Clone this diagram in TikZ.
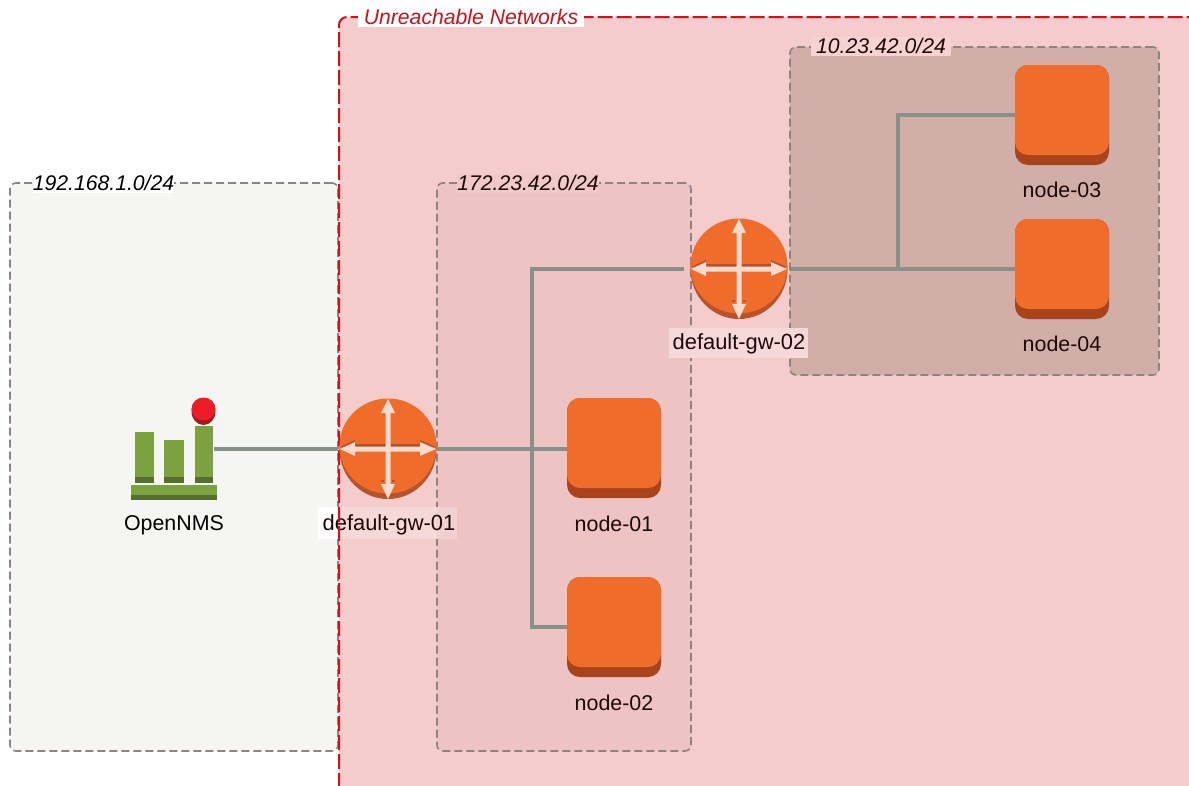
\documentclass[tikz,border=0pt]{standalone}
\usepackage{fontspec}
\setmainfont{Liberation Sans}
\definecolor{conn}{HTML}{87918A}
\definecolor{orng}{HTML}{F06C2B}
\definecolor{orngd}{HTML}{A8431C}
\definecolor{rdark}{HTML}{B8522A}
\definecolor{harrow}{HTML}{F9DAD0}
\definecolor{grn}{HTML}{7BA23F}
\definecolor{grnd}{HTML}{55702E}
\definecolor{dashg}{HTML}{8F8282}
\definecolor{redline}{HTML}{D0101A}
\definecolor{leftfill}{HTML}{F5F5F3}
\definecolor{bigfillc}{HTML}{F4CCCC}
\definecolor{midfill}{HTML}{EEC3C3}
\definecolor{rightfill}{HTML}{D2AEA8}
\definecolor{midlabc}{HTML}{F0C9C9}
\definecolor{rightlabc}{HTML}{F6D2D2}
\definecolor{gwlabc}{HTML}{F6D8D8}
\definecolor{gwlabd}{HTML}{F0D0D0}
\definecolor{balld}{HTML}{A51A1F}
\definecolor{ballc}{HTML}{EE1C25}
\definecolor{darktext}{HTML}{1E0808}
\tikzset{
  x=1pt,y=-1pt,
  region/.style={rectangle,rounded corners=6pt,dash pattern=on 8pt off 4pt,line width=1.6pt,draw=dashg,anchor=north west,inner sep=0pt,outer sep=0pt},
  regionlabel/.style={font=\fontsize{21.2}{24}\selectfont\itshape,text=black,inner sep=0pt,minimum height=19pt},
  itemlabel/.style={font=\fontsize{21.4}{24}\selectfont,text=darktext,inner sep=0pt},
  gwlabel/.style={font=\fontsize{21.9}{24}\selectfont,text=darktext,inner sep=0pt},
  link/.style={draw=conn,line width=3.4pt},
  nodebox/.style={rectangle,rounded corners=13pt,fill=orngd,minimum width=94pt,minimum height=100pt,inner sep=0pt,outer sep=0pt,
    path picture={\fill[orng,rounded corners=13pt] ([yshift=2pt]path picture bounding box.north west) rectangle ([yshift=10pt]path picture bounding box.south east);}},
  routerbox/.style={circle,minimum size=97pt,inner sep=0pt,outer sep=0pt},
}
\newcommand{\routerart}[1]{%
  \begin{scope}[shift={(#1)}]
    \fill[rdark] (0,0) ellipse [x radius=48.5pt,y radius=50pt];
    \fill[orng] (0,-3) ellipse [x radius=48.5pt,y radius=47.5pt];
    \fill[rdark] (-48,-2) -- (-33,-9) -- (-33,-5) -- (32,-5) -- (32,-9) -- (48,-2) -- cycle;
    \fill[rdark] (-7,31) rectangle (-4,33);
    \fill[rdark] (4,31) rectangle (7,33);
    \fill[harrow] (-48,0) -- (-33,-7) -- (-33,-2.5) -- (-2.5,-2.5) -- (-2.5,-36) -- (-7,-36) -- (0,-50) -- (7,-36) -- (2.5,-36) -- (2.5,-2.5)
      -- (32,-2.5) -- (32,-7) -- (48,0) -- (32,7) -- (32,2.5) -- (2.5,2.5) -- (2.5,35) -- (7,35) -- (0,50) -- (-7,35) -- (-2.5,35) -- (-2.5,2.5) -- (-33,2.5) -- (-33,7) -- cycle;
  \end{scope}}
\begin{document}
\begin{tikzpicture}
\useasboundingbox (0,0) rectangle (1189,785);
\clip (0,0) rectangle (1189,785);
\fill[white] (0,0) rectangle (1189,785);
% regions
\node[region,fill=leftfill,minimum width=328pt,minimum height=568pt] (leftnet) at (10,183) {};
\fill[bigfillc,rounded corners=8pt] (339,788) -- (339,17) -- (1250,17) -- (1250,788) -- cycle;
\node[region,fill=midfill,minimum width=254pt,minimum height=568pt] (midnet) at (437,183) {};
\node[region,fill=rightfill,minimum width=369pt,minimum height=328pt] (rightnet) at (790,47) {};
\node[regionlabel,fill=white,minimum width=141pt] (leftlab) at (103.5,183) {192.168.1.0/24};
\node[regionlabel,fill=midlabc,minimum width=141pt,text=darktext] (midlab) at (528,183) {172.23.42.0/24};
\node[regionlabel,fill=rightlabc,minimum width=140pt,text=darktext] (rightlab) at (881,46) {10.23.42.0/24};
% item labels
\fill[white] (318,507) rectangle (338,539);
\fill[gwlabc] (338,507) rectangle (437,539);
\fill[gwlabd] (437,507) rectangle (457,539);
\node[gwlabel] (gw1lab) at (389,525) {default-gw-01};
\fill[gwlabc] (669,328) rectangle (808,358);
\node[gwlabel] (gw2lab) at (739,344) {default-gw-02};
% big border
\draw[redline,line width=2pt,dash pattern=on 15pt off 4pt,rounded corners=8pt] (339,788) -- (339,17) -- (1195,17);
\node[regionlabel,fill=white,minimum width=226pt,text=redline] (biglab) at (471,17) {Unreachable Networks};
% icons
\node[nodebox] (n1) at (614,448) {};
\node[nodebox] (n2) at (614,627) {};
\node[nodebox] (n3) at (1062,115) {};
\node[nodebox] (n4) at (1062,269) {};
\node[routerbox] (gw1) at (388,449) {};
\node[routerbox] (gw2) at (739,269) {};
\routerart{388,449}
\routerart{739,269}
\node[inner sep=0pt,minimum width=86pt,minimum height=74pt] (onms) at (174,463) {};
\fill[grnd] (135,432) rectangle (154,483);
\fill[grn] (135,432) rectangle (154,477);
\fill[grnd] (164,440) rectangle (184,483);
\fill[grn] (164,440) rectangle (184,477);
\fill[grnd] (195,426) rectangle (213,483);
\fill[grn] (195,426) rectangle (213,477);
\fill[grnd] (131,485) rectangle (217,500);
\fill[grn] (131,485) rectangle (217,495);
\fill[balld] (203.5,411.5) ellipse [x radius=12pt,y radius=13.5pt];
\fill[ballc] (203.5,409) ellipse [x radius=12pt,y radius=11.5pt];
\node[itemlabel,text=black] (onmslab) at (174,525) {OpenNMS};
\node[itemlabel] (n1lab) at (614,524) {node-01};
\node[itemlabel] (n2lab) at (614,703) {node-02};
\node[itemlabel] (n3lab) at (1062,190) {node-03};
\node[itemlabel] (n4lab) at (1062,344) {node-04};
% connectors
\coordinate (j1) at (532,449);
\coordinate (j2) at (898,269);
\coordinate (onmsr) at (214,449);
\coordinate (gw1l) at (338,449);
\coordinate (gw1r) at (437,449);
\coordinate (gw2l) at (684,269);
\coordinate (gw2r) at (790,269);
\draw[link] (onmsr) -- (gw1l);
\draw[link] (gw1r) -- (j1) -- (n1.west |- j1);
\draw[link] (j1) |- (n2.west);
\draw[link] (j1) |- (gw2l);
\draw[link] (gw2r) -- (j2) -- (n4.west);
\draw[link] (j2) |- (n3.west);
\end{tikzpicture}
\end{document}
